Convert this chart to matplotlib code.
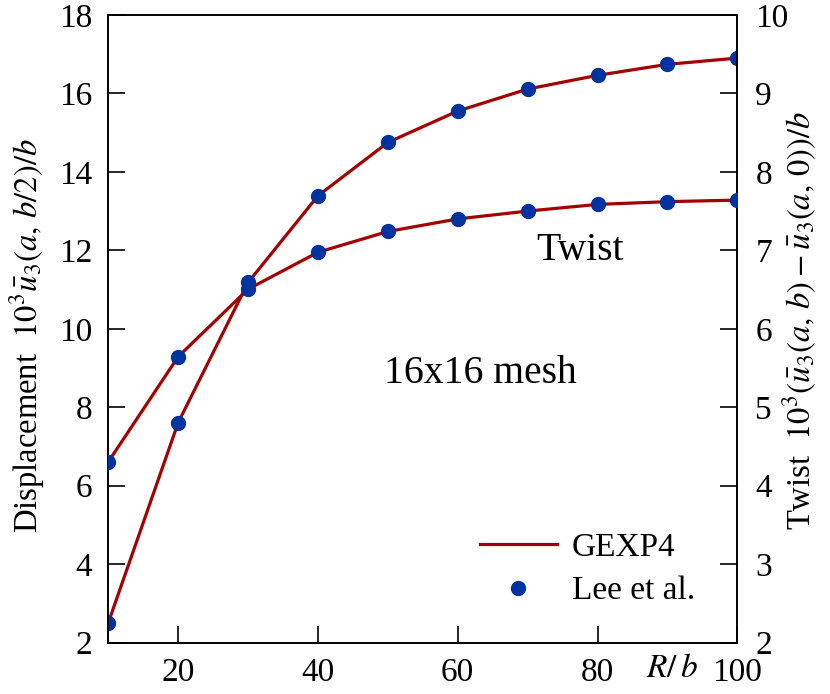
import matplotlib
matplotlib.use("Agg")
import matplotlib.pyplot as plt

# Data
rb = [10, 20, 30, 40, 50, 60, 70, 80, 90, 100]
displacement = [2.51, 7.61, 11.18, 13.39, 14.75, 15.55, 16.11, 16.46, 16.74, 16.90]
twist = [4.305, 5.645, 6.505, 6.975, 7.24, 7.40, 7.50, 7.585, 7.62, 7.64]
left_ticks = [2, 4, 6, 8, 10, 12, 14, 16, 18]
right_ticks = [2, 3, 4, 5, 6, 7, 8, 9, 10]
x_ticks = [20, 40, 60, 80, 100]

plt.rcParams['font.family'] = ['Liberation Serif', 'DejaVu Serif']
plt.rcParams['mathtext.fontset'] = 'stix'
plt.rcParams['font.size'] = 24

line_c = '#a50000'
dot_c = '#0033a0'

fig = plt.figure(figsize=(8.3, 6.94), dpi=100)
ax = fig.add_axes([0.1305, 0.074, 0.7578, 0.9045])
ax2 = ax.twinx()

ax.plot(rb, displacement, color=line_c, lw=2.3, zorder=2)
ax.plot(rb, displacement, 'o', color=dot_c, ms=10, zorder=3)
ax2.plot(rb, twist, color=line_c, lw=2.3, zorder=2, label='GEXP4')
ax2.plot(rb, twist, 'o', color=dot_c, ms=10, zorder=3, label='Lee et al.')

ax.set_xlim(10, 100)
ax.set_ylim(2, 18)
ax2.set_ylim(2, 10)
ax.set_xticks(x_ticks)
ax.set_yticks(left_ticks)
ax2.set_yticks(right_ticks)

ax.tick_params(axis='both', direction='in', length=12, width=1.2, top=False, right=False)
ax.tick_params(axis='y', pad=11.5)
ax.tick_params(axis='x', pad=11)
ax2.tick_params(axis='y', direction='in', length=12, width=1.2, pad=13)
for a in (ax, ax2):
    for s in a.spines.values():
        s.set_linewidth(1.2)

ax.set_ylabel(r'Displacement  $10^3\bar{u}_3(a,\,b/2)/b$', fontsize=23.5)
ax2.set_ylabel(r'Twist  $10^3(\bar{u}_3(a,\,b) - \bar{u}_3(a,\,0))/b$', fontsize=23.5)
ax.yaxis.set_label_coords(-0.097, 0.4886)
ax2.yaxis.set_label_coords(1.0695, 0.5125)

ax.text(0.9375, -0.0175, r'$R/\,b$', transform=ax.transAxes, ha='right', va='top')
ax.text(0.750, 0.6097, 'Twist', transform=ax.transAxes, ha='center', va='baseline', fontsize=28.5)
ax.text(0.592, 0.4137, '16x16 mesh', transform=ax.transAxes, ha='center', va='baseline', fontsize=28.5)

leg = ax2.legend(loc='upper left', bbox_to_anchor=(0.591, 0.176), frameon=False,
                 borderpad=0, borderaxespad=0,
                 handlelength=2.3, handletextpad=0.45, labelspacing=0.4)

fig.savefig('out.png', dpi=100)
